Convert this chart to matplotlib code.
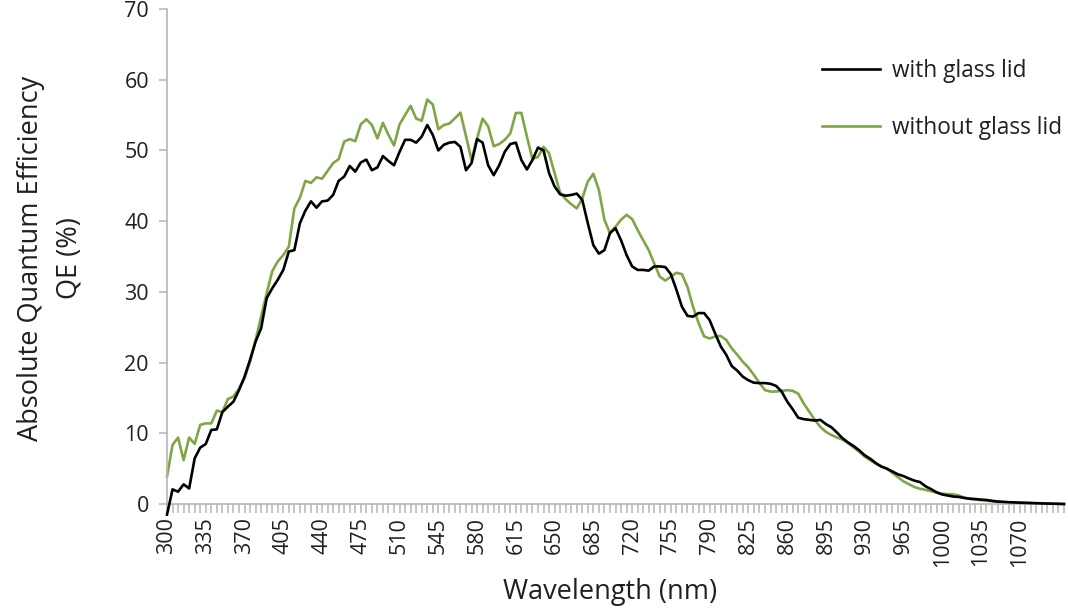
import numpy as np
from matplotlib import pyplot as plt

# длины волн, шаг 5 нм
wavelength = np.arange(300, 1111, 5)

with_lid = [
    -1.5, 2.07, 1.74, 2.78, 2.2, 6.46, 7.97, 8.49, 10.47, 10.56,
    13.0, 13.77, 14.47, 16.1, 18.0, 20.4, 22.96, 24.85, 29.1, 30.5,
    31.7, 33.1, 35.7, 35.9, 39.7, 41.5, 42.8, 41.9, 42.8, 42.9,
    43.7, 45.7, 46.3, 47.8, 47.0, 48.3, 48.7, 47.2, 47.6, 49.2,
    48.5, 47.9, 49.8, 51.5, 51.5, 51.1, 51.95, 53.6, 52.2, 50.0,
    50.8, 51.1, 51.2, 50.5, 47.2, 48.2, 51.6, 51.1, 47.9, 46.5,
    47.9, 49.8, 50.9, 51.1, 48.65, 47.3, 48.65, 50.4, 50.0, 46.8,
    44.9, 43.8, 43.6, 43.7, 43.9, 43.0, 39.7, 36.6, 35.4, 35.9,
    38.3, 39.0, 37.3, 35.2, 33.6, 33.1, 33.1, 33.0, 33.6, 33.6,
    33.5, 32.5, 30.3, 27.9, 26.6, 26.5, 27.0, 27.0, 26.0, 24.1,
    22.3, 21.1, 19.5, 18.85, 18.0, 17.5, 17.15, 17.1, 17.1, 17.0,
    16.7, 15.9, 14.5, 13.4, 12.2, 12.0, 11.9, 11.8, 11.9, 11.3,
    10.85, 10.1, 9.3, 8.7, 8.2, 7.6, 6.9, 6.4, 5.8, 5.3,
    5.0, 4.6, 4.2, 3.95, 3.6, 3.3, 3.1, 2.5, 2.1, 1.65,
    1.35, 1.2, 1.05, 1.0, 0.85, 0.75, 0.7, 0.62, 0.57, 0.45,
    0.35, 0.3, 0.26, 0.22, 0.19, 0.16, 0.13, 0.1, 0.08, 0.06,
    0.04, 0.02, 0.0,
]

without_lid = [
    3.9, 8.35, 9.4, 6.2, 9.4, 8.5, 11.2, 11.4, 11.4, 13.2,
    13.0, 14.85, 15.2, 16.3, 17.8, 20.1, 23.2, 26.5, 29.8, 32.9,
    34.3, 35.2, 36.4, 41.8, 43.3, 45.7, 45.4, 46.2, 46.0, 47.1,
    48.2, 48.75, 51.25, 51.6, 51.3, 53.7, 54.4, 53.6, 51.7, 53.9,
    52.2, 50.7, 53.7, 55.0, 56.3, 54.5, 54.2, 57.2, 56.5, 53.0,
    53.6, 53.8, 54.55, 55.35, 52.0, 48.65, 51.7, 54.5, 53.4, 50.6,
    50.9, 51.5, 52.4, 55.3, 55.3, 51.95, 48.8, 49.1, 50.5, 49.6,
    46.8, 44.0, 43.1, 42.4, 41.8, 43.2, 45.6, 46.7, 44.4, 40.2,
    38.3, 39.2, 40.2, 40.9, 40.3, 38.75, 37.3, 35.9, 34.0, 32.15,
    31.6, 32.15, 32.7, 32.5, 30.7, 27.9, 25.6, 23.7, 23.4, 23.7,
    23.76, 23.2, 22.0, 21.1, 20.1, 19.3, 18.25, 17.1, 16.1, 15.9,
    15.9, 16.0, 16.1, 16.0, 15.6, 14.2, 13.05, 11.9, 10.9, 10.2,
    9.76, 9.4, 9.1, 8.6, 8.0, 7.4, 6.7, 6.2, 5.7, 5.3,
    5.0, 4.4, 3.8, 3.2, 2.8, 2.4, 2.15, 2.0, 1.8, 1.6,
    1.45, 1.4, 1.37, 1.2, 0.9, 0.72, 0.62, 0.55, 0.47, 0.38,
    0.3, 0.26, 0.23, 0.2, 0.19, 0.17, 0.15, 0.14, 0.12, 0.08,
    0.05, 0.02, 0.0,
]

x_labels = np.arange(300, 1071, 35)

plt.rcParams['font.family'] = ['Open Sans', 'DejaVu Sans']
text_color = '#231f20'
axis_color = '#b5b5b5'

fig = plt.figure(figsize=(10.68, 6.15), dpi=100)
ax = fig.add_axes([167 / 1068, 1 - 504 / 615, (1064 - 167) / 1068, 495 / 615])

ax.plot(wavelength, with_lid, color='black', lw=1.9, label='with glass lid', clip_on=False, zorder=3)
ax.plot(wavelength, without_lid, color='#7fa645', lw=1.9, label='without glass lid', clip_on=False, zorder=2)

ax.set_xlim(300, 1110)
ax.set_ylim(0, 70)

for s in ['top', 'right']:
    ax.spines[s].set_visible(False)
for s in ['left', 'bottom']:
    ax.spines[s].set_color(axis_color)
    ax.spines[s].set_linewidth(1.2)

ax.set_yticks(np.arange(0, 71, 10))
ax.set_xticks(x_labels)
ax.set_xticks(np.arange(300, 1111, 5), minor=True)
ax.set_xticklabels([str(v) for v in x_labels], rotation=90)

ax.tick_params(axis='y', length=6, width=1.1, color=axis_color, labelsize=15.5, labelcolor=text_color, pad=7)
ax.tick_params(axis='x', which='both', length=6.5, width=1.1, color=axis_color, direction='out')
ax.tick_params(axis='x', labelsize=15.5, labelcolor=text_color, pad=3)

fig.text(50 / 1068, 1 - 258 / 615, 'Absolute Quantum Efficiency\nQE (%)', rotation=90,
         ha='center', va='center', fontsize=19.5, color=text_color, linespacing=1.5)
fig.text(610 / 1068, 1 - 592 / 615, 'Wavelength (nm)', ha='center', va='center',
         fontsize=19.5, color=text_color)

leg = ax.legend(loc='center left', bbox_to_anchor=(0.73, 0.817), frameon=False,
                fontsize=16.3, handlelength=2.55, handletextpad=0.55, labelspacing=1.45,
                borderpad=0, borderaxespad=0)
for t in leg.get_texts():
    t.set_color(text_color)

plt.savefig('out.png', dpi=100)
